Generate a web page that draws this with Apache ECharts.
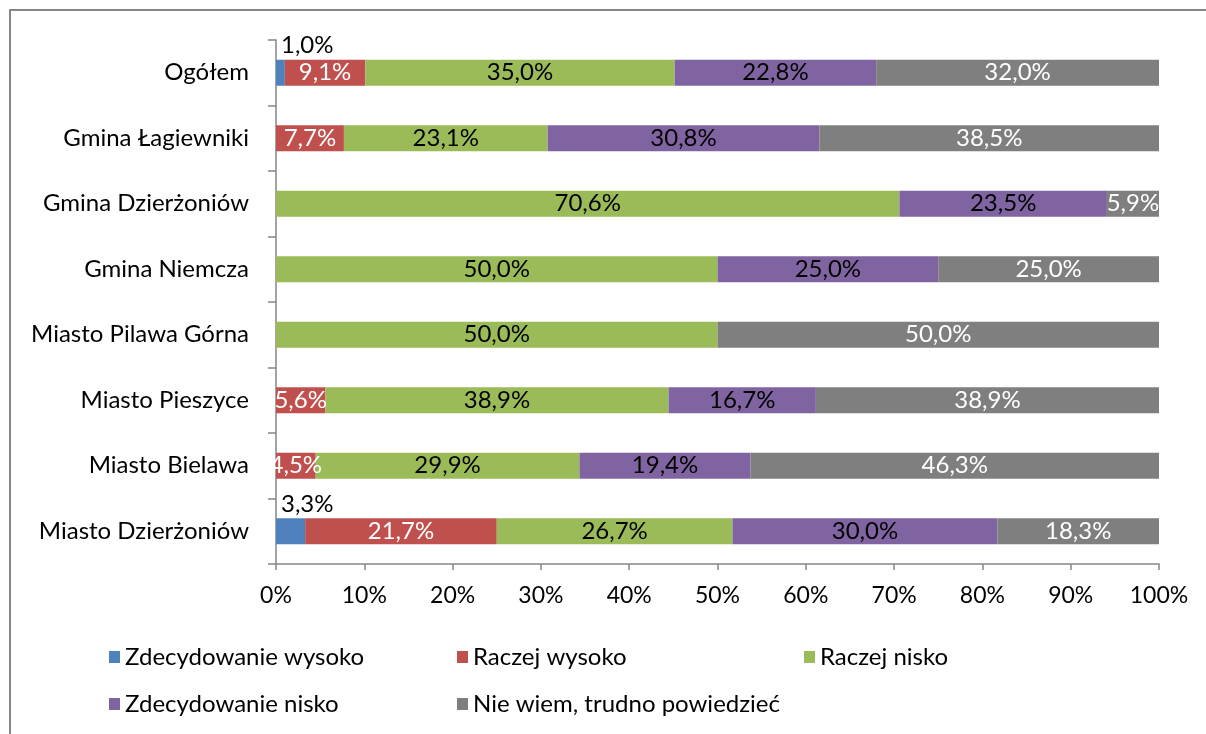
<!DOCTYPE html>
<html>
<head>
<meta charset="utf-8">
<script src="https://cdn.jsdelivr.net/npm/echarts@6/dist/echarts.min.js"></script>
<style>
    html, body { margin: 0; padding: 0; background: #fff; }
    #chart { width: 1206px; height: 734px; }
</style>
</head>
<body>
<div id="chart"></div>
<script>
// --- dane ---
const categories = ['Ogółem', 'Gmina Łagiewniki', 'Gmina Dzierżoniów', 'Gmina Niemcza',
    'Miasto Pilawa Górna', 'Miasto Pieszyce', 'Miasto Bielawa', 'Miasto Dzierżoniów'];
const seriesNames = ['Zdecydowanie wysoko', 'Raczej wysoko', 'Raczej nisko', 'Zdecydowanie nisko', 'Nie wiem, trudno powiedzieć'];

const zdecydowanieWysoko = [1.0, 0, 0, 0, 0, 0, 0, 3.3];
const raczejWysoko = [9.1, 7.7, 0, 0, 0, 5.6, 4.5, 21.7];
const raczejNisko = [35.0, 23.1, 70.6, 50.0, 50.0, 38.9, 29.9, 26.7];
const zdecydowanieNisko = [22.8, 30.8, 23.5, 25.0, 0, 16.7, 19.4, 30.0];
const nieWiem = [32.0, 38.5, 5.9, 25.0, 50.0, 38.9, 46.3, 18.3];

const xTicks = [0, 10, 20, 30, 40, 50, 60, 70, 80, 90, 100];

const colors = ['#4F81BD', '#C0504D', '#9BBB59', '#8064A2', '#7F7F7F'];
const labelColors = ['#000', '#fff', '#000', '#000', '#fff'];
const FONT = 'Lato';

const allValues = [zdecydowanieWysoko, raczejWysoko, raczejNisko, zdecydowanieNisko, nieWiem];

// 100% skumulowany jak w Excelu - normalizacja do sumy wiersza
const totals = categories.map((c, i) => allValues.reduce((s, arr) => s + arr[i], 0));

function fmt(v) {
    return v.toFixed(1).replace('.', ',') + '%';
}

const chart = echarts.init(document.getElementById('chart'));

const series = allValues.map((arr, si) => ({
    name: seriesNames[si],
    type: 'bar',
    stack: 'total',
    barWidth: 26,
    itemStyle: { color: colors[si] },
    label: {
        show: true,
        position: si === 0 ? [5, -26] : 'inside',
        color: labelColors[si],
        fontFamily: FONT,
        fontSize: 24,
        formatter: p => fmt(p.data.raw)
    },
    data: arr.map((v, i) => v > 0 ? { value: v / totals[i] * 100, raw: v } : { value: null, raw: 0 })
}));

const legendPos = [
    { left: 104, top: 640 },
    { left: 452, top: 640 },
    { left: 799, top: 640 },
    { left: 104, top: 687 },
    { left: 452, top: 687 }
];

const option = {
    animation: false,
    color: colors,
    grid: { left: 276, right: 47, top: 40, bottom: 170, containLabel: false },
    xAxis: {
        type: 'value',
        min: 0,
        max: 100,
        interval: 10,
        axisLine: { show: true, lineStyle: { color: '#868686', width: 1.5 } },
        axisTick: { show: true, length: 6, lineStyle: { color: '#868686', width: 1.5 } },
        splitLine: { show: false },
        axisLabel: {
            color: '#000',
            fontFamily: FONT,
            fontSize: 23,
            margin: 20,
            formatter: v => xTicks.includes(v) ? v + '%' : ''
        }
    },
    yAxis: {
        type: 'category',
        inverse: true,
        data: categories,
        axisLine: { show: true, lineStyle: { color: '#868686', width: 1.5 } },
        axisTick: { show: true, length: 8, lineStyle: { color: '#868686', width: 1.5 } },
        axisLabel: { color: '#000', fontFamily: FONT, fontSize: 24, margin: 27 }
    },
    legend: seriesNames.map((name, i) => ({
        data: [name],
        left: legendPos[i].left,
        top: legendPos[i].top,
        icon: 'rect',
        itemWidth: 11,
        itemHeight: 12,
        selectedMode: false,
        textStyle: { color: '#000', fontFamily: FONT, fontSize: 24 }
    })),
    graphic: [{
        type: 'rect',
        shape: { x: 10, y: 10, width: 1210, height: 740 },
        style: { fill: 'none', stroke: '#868686', lineWidth: 2 },
        silent: true
    }],
    series: series
};

chart.setOption(option);
</script>
</body>
</html>
